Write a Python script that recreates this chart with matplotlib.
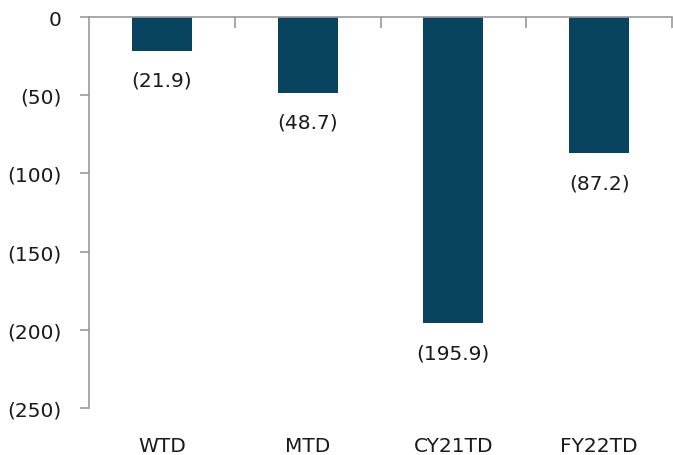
import matplotlib.pyplot as plt
from matplotlib.ticker import FuncFormatter, FixedLocator

# period-to-date values
categories = ["WTD", "MTD", "CY21TD", "FY22TD"]
values = [-21.9, -48.7, -195.9, -87.2]

bar_color = "#08445F"
axis_color = "#9A9A9A"
text_color = "#1a1a1a"
font_size = 14.5

plt.rcParams["font.family"] = ["DejaVu Sans"]

fig = plt.figure(figsize=(6.73, 4.56), dpi=100)
ax = fig.add_axes([89 / 673, 1 - 409 / 456, 583 / 673, 391 / 456])

x = list(range(len(categories)))
ax.bar(x, values, width=0.41, color=bar_color)

for xi, v in zip(x, values):
    ax.annotate(f"({abs(v):.1f})", (xi, v), xytext=(0, -21), textcoords="offset points",
                ha="center", va="center", fontsize=font_size, color=text_color)

ax.set_xlim(-0.5, len(categories) - 0.5)
ax.set_ylim(-250, 0)

def paren(v, pos):
    if v == 0:
        return "0"
    return f"({abs(v):.0f})"

ax.yaxis.set_major_locator(FixedLocator([0, -50, -100, -150, -200, -250]))
ax.yaxis.set_major_formatter(FuncFormatter(paren))
ax.tick_params(axis="y", length=6.5, width=1.2, color=axis_color, pad=13,
               labelsize=font_size, labelcolor=text_color)

# category labels along the bottom, tick marks along the zero line
ax.set_xticks(x)
ax.set_xticklabels(categories)
ax.tick_params(axis="x", which="major", length=0, pad=20, labelsize=font_size, labelcolor=text_color)
ax.xaxis.set_minor_locator(FixedLocator([i + 0.5 for i in x]))
ax.tick_params(axis="x", which="minor", top=True, bottom=False, direction="in",
               length=8, width=1.2, color=axis_color)

for side in ["right", "bottom"]:
    ax.spines[side].set_visible(False)
for side in ["left", "top"]:
    ax.spines[side].set_color(axis_color)
    ax.spines[side].set_linewidth(1.2)

fig.savefig("out.png", dpi=100)
